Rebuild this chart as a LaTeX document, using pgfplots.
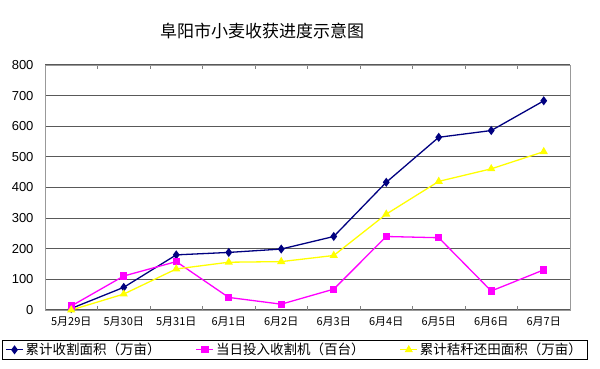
\documentclass[border=0pt]{standalone}
\usepackage{fontspec}
\setmainfont{Liberation Sans}
\newfontfamily\cjk{Noto Sans CJK SC}
\usepackage{pgfplots}
\pgfplotsset{compat=1.18}
\definecolor{navyc}{RGB}{0,0,128}
\definecolor{magc}{RGB}{255,0,255}
\definecolor{yelc}{RGB}{255,255,0}
\begin{document}
\begin{tikzpicture}
\path[use as bounding box] (0pt,0pt) rectangle (600pt,369pt);
\node[font=\cjk\fontsize{17}{19}\selectfont] at (262pt,338pt) {阜阳市小麦收获进度示意图};
\begin{axis}[
  at={(45pt,59pt)}, anchor=south west, scale only axis,
  width=525pt, height=245pt,
  xmin=-0.5, xmax=9.5, ymin=0, ymax=800,
  ytick={0,100,...,800},
  xtick={0,...,9},
  xticklabels={5月29日,5月30日,5月31日,6月1日,6月2日,6月3日,6月4日,6月5日,6月6日,6月7日},
  minor xtick={0.5,1.5,...,8.5},
  major tick length=0pt,
  minor tick length=4pt,
  tick align=inside,
  ymajorgrids,
  major grid style={draw=black!65, line width=1.2pt},
  axis line style={draw=black!40, line width=0.8pt},
  minor tick style={draw=black!50, line width=0.8pt},
  /pgf/number format/assume math mode=true,
  yticklabel style={font=\fontsize{13}{15}\selectfont, xshift=-8pt},
  xticklabel style={font=\cjk\fontsize{11}{13}\selectfont, yshift=-3pt},
  legend style={at={(axis description cs:-0.082,-0.122)}, anchor=north west,
    legend columns=3, draw=black, line width=0.8pt,
    font=\cjk\fontsize{13.5}{15}\selectfont,
    inner xsep=3pt, inner ysep=1pt,
    /tikz/every even column/.append style={column sep=33pt}},
  legend cell align=left,
]
\addplot[navyc, line width=1.3pt, mark=diamond*, mark size=3.5pt, mark options={fill=navyc}]
  coordinates {(0,5) (1,74) (2,180) (3,188) (4,199) (5,240) (6,417) (7,564) (8,586) (9,683)};
\addlegendentry{累计收割面积（万亩）}
\addplot[magc, line width=1.3pt, mark=square*, mark size=3pt, mark options={fill=magc}]
  coordinates {(0,13) (1,111) (2,158) (3,41) (4,19) (5,68) (6,240) (7,236) (8,62) (9,131)};
\addlegendentry{当日投入收割机（百台）}
\addplot[yelc, line width=1.3pt, mark=triangle*, mark size=3.5pt, mark options={fill=yelc}]
  coordinates {(0,0) (1,52) (2,134) (3,156) (4,158) (5,178) (6,313) (7,420) (8,461) (9,517)};
\addlegendentry{累计秸秆还田面积（万亩）}
\end{axis}
\end{tikzpicture}
\end{document}
